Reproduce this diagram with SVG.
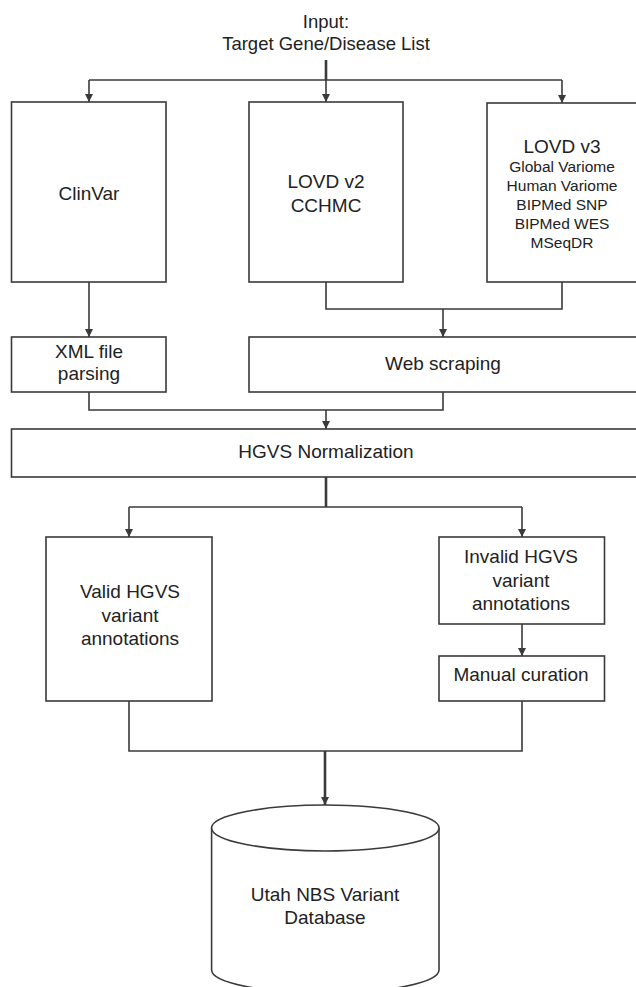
<svg xmlns="http://www.w3.org/2000/svg" width="636" height="987" viewBox="0 0 636 987">
<style>
.box{fill:#fff;stroke:#3a3a3a;stroke-width:1.6}
.ln{fill:none;stroke:#3a3a3a;stroke-width:1.6}
.thick{fill:none;stroke:#3a3a3a;stroke-width:2.6}
text{font-family:"Liberation Sans",Arial,sans-serif;font-size:19px;fill:#222;text-anchor:middle}
.sm{font-size:15.5px}
</style>
<defs>
<marker id="arr" markerUnits="userSpaceOnUse" markerWidth="10" markerHeight="10" refX="8" refY="4" orient="auto">
<path d="M0,0 L8,4 L0,8 Z" fill="#3a3a3a"/>
</marker>
</defs>
<rect width="636" height="987" fill="#fff"/>
<g id="input">
<text x="326" y="28" style="font-size:18.5px">Input:</text>
<text x="326" y="50" style="font-size:18.5px">Target Gene/Disease List</text>
</g>
<g id="clinvar">
<rect class="box" x="11.5" y="102" width="154.5" height="180"/>
<text x="89" y="200">ClinVar</text>
</g>
<g id="lovd2">
<rect class="box" x="249" y="102" width="154" height="180"/>
<text x="326" y="188">LOVD v2</text>
<text x="326" y="212">CCHMC</text>
</g>
<g id="lovd3">
<rect class="box" x="487" y="103" width="160" height="179"/>
<text x="562" y="153">LOVD v3</text>
<text class="sm" x="562" y="172">Global Variome</text>
<text class="sm" x="562" y="191">Human Variome</text>
<text class="sm" x="562" y="210">BIPMed SNP</text>
<text class="sm" x="562" y="229">BIPMed WES</text>
<text class="sm" x="562" y="248">MSeqDR</text>
</g>
<g id="xml">
<rect class="box" x="11.5" y="337" width="154.5" height="55"/>
<text x="89" y="358">XML file</text>
<text x="89" y="380">parsing</text>
</g>
<g id="web">
<rect class="box" x="249" y="337" width="400" height="55"/>
<text x="443" y="370">Web scraping</text>
</g>
<g id="hgvs">
<rect class="box" x="11.5" y="429" width="640" height="48"/>
<text x="326" y="458">HGVS Normalization</text>
</g>
<g id="valid">
<rect class="box" x="46" y="537" width="166" height="164"/>
<text x="130" y="598">Valid HGVS</text>
<text x="130" y="622">variant</text>
<text x="130" y="645">annotations</text>
</g>
<g id="invalid">
<rect class="box" x="439" y="537" width="165.5" height="87"/>
<text x="521" y="563">Invalid HGVS</text>
<text x="521" y="587">variant</text>
<text x="521" y="610">annotations</text>
</g>
<g id="manual">
<rect class="box" x="439" y="656" width="165.5" height="45"/>
<text x="521" y="681">Manual curation</text>
</g>
<g id="database">
<path class="box" d="M211.6,828 L211.6,970 A113.7,23 0 0 0 439,970 L439,828"/>
<ellipse class="box" cx="325.3" cy="828" rx="113.7" ry="23"/>
<text x="325" y="901">Utah NBS Variant</text>
<text x="325" y="924">Database</text>
</g>
<g id="connectors">
<path class="thick" d="M326,60 V80"/>
<path class="ln" d="M89,80 H562"/>
<path class="ln" d="M326,80 V102" marker-end="url(#arr)"/>
<path class="ln" d="M89,80 V102" marker-end="url(#arr)"/>
<path class="ln" d="M562,80 V103" marker-end="url(#arr)"/>
<path class="ln" d="M89,282 V337" marker-end="url(#arr)"/>
<path class="ln" d="M326,282 V309 H562 V282"/>
<path class="ln" d="M443,309 V337" marker-end="url(#arr)"/>
<path class="ln" d="M89,392 V410 H443 V392"/>
<path class="ln" d="M326,410 V429" marker-end="url(#arr)"/>
<path class="thick" d="M326,477 V507"/>
<path class="ln" d="M129,507 H522"/>
<path class="ln" d="M129,507 V537" marker-end="url(#arr)"/>
<path class="ln" d="M522,507 V537" marker-end="url(#arr)"/>
<path class="ln" d="M522,624 V656" marker-end="url(#arr)"/>
<path class="ln" d="M129,701 V751 H522 V701"/>
<path class="thick" d="M325,751 V805" marker-end="url(#arr)"/>
</g>
</svg>
